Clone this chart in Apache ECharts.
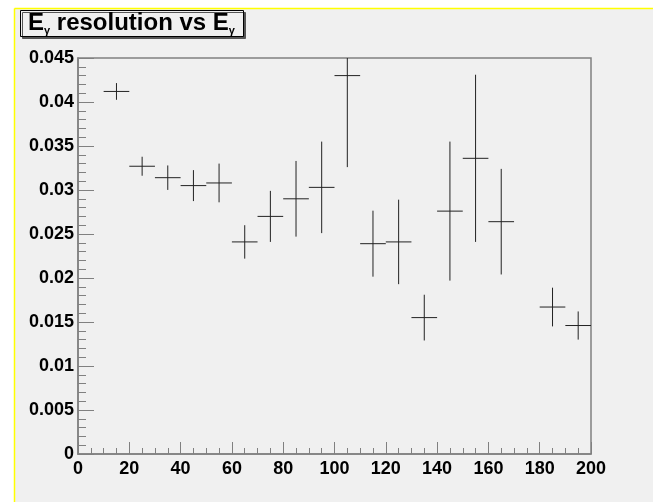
<!DOCTYPE html>
<html>
<head>
<meta charset="utf-8">
<script src="https://cdn.jsdelivr.net/npm/echarts@6/dist/echarts.min.js"></script>
<style>
  html, body { margin: 0; padding: 0; background: #fff; }
  #chart { width: 653px; height: 502px; }
</style>
</head>
<body>
<div id="chart"></div>
<script>
// 数据：每个bin的中心、分辨率、误差
const binCenters = [15, 25, 35, 45, 55, 65, 75, 85, 95, 105, 115, 125, 135, 145, 155, 165, 185, 195];
const resolution = [0.0412, 0.0327, 0.0314, 0.0305, 0.0308, 0.0241, 0.0270, 0.0290, 0.0303, 0.0430,
  0.0239, 0.0241, 0.0155, 0.0276, 0.0336, 0.0264, 0.0167, 0.0146];
const resolutionErr = [0.00095, 0.00108, 0.00139, 0.00176, 0.0022, 0.0019, 0.0029, 0.0043, 0.0052, 0.0104,
  0.00375, 0.0048, 0.0026, 0.0079, 0.0095, 0.0060, 0.0022, 0.0016];
const binHalfWidth = 5;

const fontFamily = "'Liberation Sans', Arial, sans-serif";
const axisColor = '#808080';

let chart = echarts.init(document.getElementById('chart'));

let option = {
  animation: false,
  backgroundColor: '#fff',
  textStyle: { fontFamily: fontFamily },
  graphic: [
    // 画布背景 + 黄色边框
    {
      type: 'rect',
      left: 14, top: 8,
      shape: { width: 640, height: 494 },
      style: { fill: '#f0f0f0' },
      z: -10
    },
    {
      type: 'line',
      shape: { x1: 14.5, y1: 8.5, x2: 653, y2: 8.5 },
      style: { stroke: '#ffff00', lineWidth: 1.5 },
      z: -5
    },
    {
      type: 'line',
      shape: { x1: 14.5, y1: 8.5, x2: 14.5, y2: 502 },
      style: { stroke: '#ffff00', lineWidth: 1.5 },
      z: -5
    }
  ],
  title: {
    text: '{b|E}{s|γ}{b| resolution vs E}{s|γ}',
    left: 20,
    top: 10,
    padding: [1, 9, 1, 8],
    backgroundColor: '#f0f0f0',
    borderColor: '#000',
    borderWidth: 1,
    shadowColor: '#555',
    shadowOffsetX: 2,
    shadowOffsetY: 2,
    shadowBlur: 0,
    textStyle: {
      rich: {
        b: { fontFamily: fontFamily, fontWeight: 'bold', fontSize: 24, color: '#000', lineHeight: 25 },
        s: { fontFamily: fontFamily, fontSize: 11, color: '#000', verticalAlign: 'bottom', padding: [12, 0, 0, 0], lineHeight: 25 }
      }
    }
  },
  grid: {
    left: 78,
    top: 58,
    right: 62,
    bottom: 48,
    show: true,
    backgroundColor: 'transparent',
    borderColor: axisColor,
    borderWidth: 1.5
  },
  xAxis: {
    type: 'value',
    min: 0,
    max: 200,
    interval: 20,
    axisLine: { show: true, lineStyle: { color: axisColor, width: 1.5 } },
    axisTick: { show: true, inside: true, length: 12, lineStyle: { color: axisColor } },
    minorTick: { show: true, splitNumber: 4, length: 6, lineStyle: { color: axisColor } },
    splitLine: { show: false },
    axisLabel: {
      color: '#000',
      fontFamily: fontFamily,
      fontWeight: 'bold',
      fontSize: 18,
      margin: 6,
      showMaxLabel: true,
      showMinLabel: true
    }
  },
  yAxis: {
    type: 'value',
    min: 0,
    max: 0.045,
    interval: 0.005,
    axisLine: { show: true, lineStyle: { color: axisColor, width: 1.5 } },
    axisTick: { show: true, inside: true, length: 16, lineStyle: { color: axisColor } },
    minorTick: { show: true, splitNumber: 5, length: 8, lineStyle: { color: axisColor } },
    splitLine: { show: false },
    axisLabel: {
      color: '#000',
      fontFamily: fontFamily,
      fontWeight: 'bold',
      fontSize: 18,
      margin: 4,
      showMaxLabel: true,
      showMinLabel: true
    }
  },
  series: [
    {
      type: 'custom',
      clip: true,
      data: binCenters.map((x, i) => [x, resolution[i], resolutionErr[i]]),
      renderItem: (params, api) => {
        let x = api.value(0);
        let y = api.value(1);
        let err = api.value(2);
        let pLeft = api.coord([x - binHalfWidth, y]);
        let pRight = api.coord([x + binHalfWidth, y]);
        let pTop = api.coord([x, Math.min(y + err, 0.045)]);
        let pBottom = api.coord([x, Math.max(y - err, 0)]);
        let style = { stroke: '#222', lineWidth: 1 };
        return {
          type: 'group',
          children: [
            { type: 'line', shape: { x1: pLeft[0], y1: pLeft[1], x2: pRight[0], y2: pRight[1] }, style: style },
            { type: 'line', shape: { x1: pTop[0], y1: pTop[1], x2: pBottom[0], y2: pBottom[1] }, style: style }
          ]
        };
      }
    }
  ]
};
chart.setOption(option);
</script>
</body>
</html>
